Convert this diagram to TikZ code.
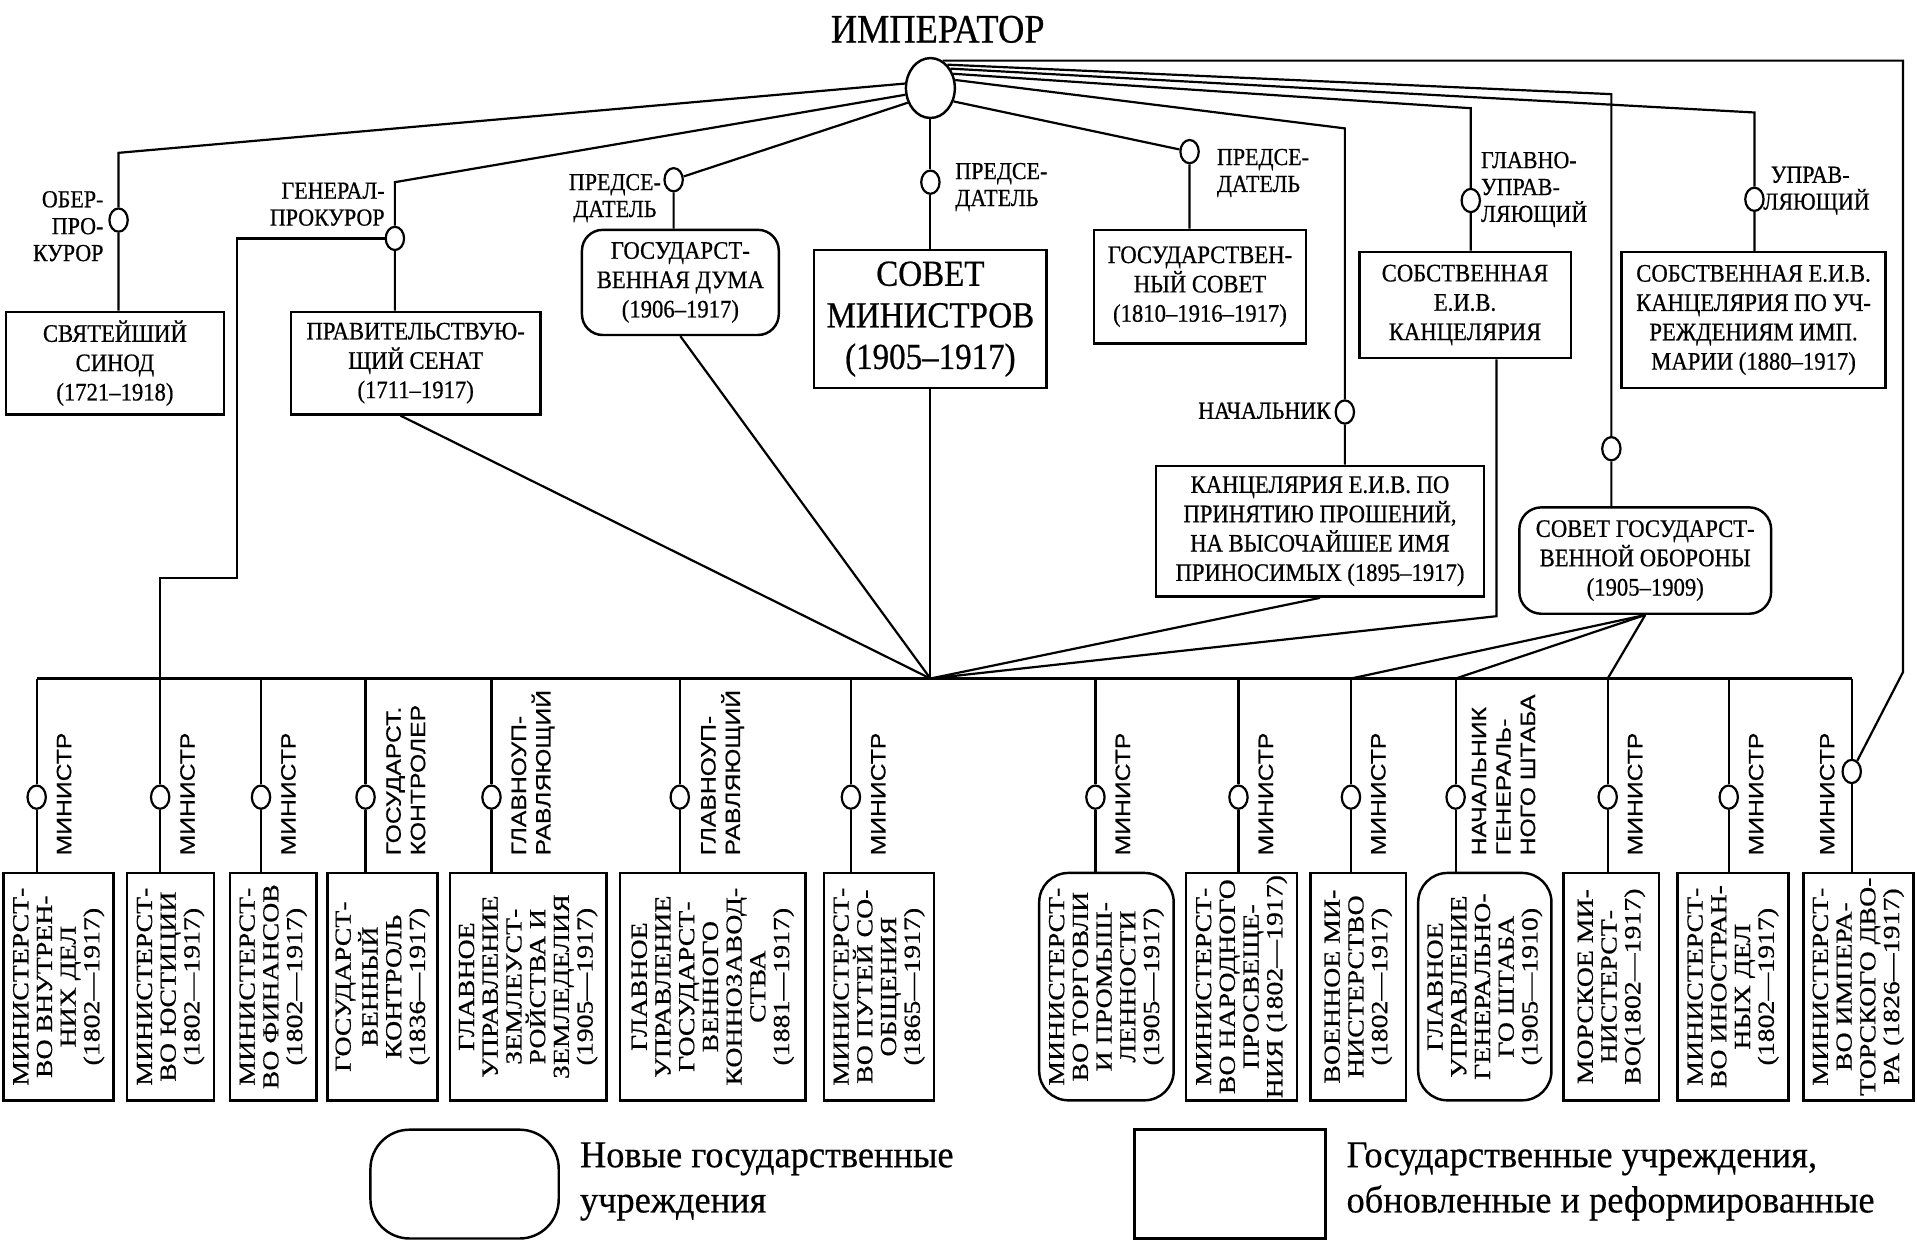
\documentclass[tikz,border=0pt]{standalone}
\usepackage{fontspec}
\setmainfont{Liberation Serif}
\newfontfamily\condfont[FakeStretch=0.9,FakeBold=0.6]{Liberation Serif}
\newfontfamily\widefont[FakeStretch=1.21,FakeBold=0.6]{Liberation Serif}
\newfontfamily\labfont[FakeStretch=1.19,FakeBold=0.5]{Liberation Sans}
\newfontfamily\legfont[FakeStretch=0.96,FakeBold=0.4]{Liberation Serif}
\usetikzlibrary{shapes.geometric,calc}
\tikzset{
  wh/.style 2 args={minimum width=#1*0.5pt, minimum height=#2*0.5pt},
  conn/.style={line width=0.9pt},
  barline/.style={line width=1.5pt},
  tbox/.style={draw, line width=1pt, fill=white, inner sep=0, align=center,
    font=\condfont\fontsize{10.3}{12}\selectfont},
  tlab/.style={inner sep=0, font=\condfont\fontsize{10}{11}\selectfont},
  cir/.style={ellipse, draw, line width=0.9pt, fill=white, inner sep=0,
    minimum width=7.5pt, minimum height=9.5pt},
  bbox/.style={draw, line width=1pt, fill=white, inner sep=0},
  btext/.style={rotate=90, align=center, inner sep=0,
    font=\widefont\fontsize{9.4}{9.7}\selectfont},
  blab/.style={rotate=90, align=left, inner sep=0,
    font=\labfont\fontsize{8.5}{10}\selectfont},
  legtext/.style={align=left, inner sep=0, font=\legfont\fontsize{15.5}{18.5}\selectfont}
}
\begin{document}
\begin{tikzpicture}[x=0.5pt,y=-0.5pt]
\useasboundingbox (0,0) rectangle (1568,1014);

% ---------- Emperor ----------
\node[inner sep=0, font=\condfont\fontsize{16.5}{18}\selectfont] (title) at (767,24) {ИМПЕРАТОР};
\node[ellipse, draw, line width=1pt, fill=white, inner sep=0, minimum width=20pt, minimum height=24.5pt] (emp) at (761,72) {};

% ---------- Top boxes ----------
\node[tbox, wh={178}{84}] (sinod) at (94,297) {СВЯТЕЙШИЙ\\СИНОД\\(1721–1918)};
\node[tbox, wh={204}{84}] (senat) at (340,297) {ПРАВИТЕЛЬСТВУЮ-\\ЩИЙ СЕНАТ\\(1711–1917)};
\node[tbox, wh={161}{86}, rounded corners=8.5pt] (duma) at (556.5,231) {ГОСУДАРСТ-\\ВЕННАЯ ДУМА\\(1906–1917)};
\node[tbox, wh={190}{113}, font=\condfont\fontsize{15}{17}\selectfont] (sovmin) at (761,261) {СОВЕТ\\МИНИСТРОВ\\(1905–1917)};
\node[tbox, wh={173}{93}] (gossov) at (981.5,234.5) {ГОСУДАРСТВЕН-\\НЫЙ СОВЕТ\\(1810–1916–1917)};
\node[tbox, wh={173}{87}] (sobst) at (1198.3,249.5) {СОБСТВЕННАЯ\\Е.И.В.\\КАНЦЕЛЯРИЯ};
\node[tbox, wh={216}{111}] (marii) at (1434.3,261.7) {СОБСТВЕННАЯ Е.И.В.\\КАНЦЕЛЯРИЯ ПО УЧ-\\РЕЖДЕНИЯМ ИМП.\\МАРИИ (1880–1917)};
\node[tbox, wh={268}{107}] (prosh) at (1079.7,434.5) {КАНЦЕЛЯРИЯ Е.И.В. ПО\\ПРИНЯТИЮ ПРОШЕНИЙ,\\НА ВЫСОЧАЙШЕЕ ИМЯ\\ПРИНОСИМЫХ (1895–1917)};
\node[tbox, wh={206}{87}, rounded corners=9pt] (sgo) at (1345.7,458.5) {СОВЕТ ГОСУДАРСТ-\\ВЕННОЙ ОБОРОНЫ\\(1905–1909)};

% ---------- Top circles ----------
\node[cir] (c_ob) at (97,180) {};
\node[cir] (c_gp) at (323,195) {};
\node[cir] (c_du) at (551,147) {};
\node[cir] (c_sm) at (761,149) {};
\node[cir] (c_gs) at (973,124) {};
\node[cir] (c_na) at (1100,337) {};
\node[cir] (c_gl) at (1203,164) {};
\node[cir] (c_up) at (1435,163) {};
\node[cir] (c_sg) at (1318,367) {};

% ---------- Top labels ----------
\node[tlab, align=right, anchor=east] (l_ob) at (85,185) {ОБЕР-\\ПРО-\\КУРОР};
\node[tlab, align=right, anchor=east] (l_gp) at (315,167) {ГЕНЕРАЛ-\\ПРОКУРОР};
\node[tlab, align=center, anchor=east] (l_du) at (541,162) {ПРЕДСЕ-\\ДАТЕЛЬ};
\node[tlab, align=left, anchor=west] (l_sm) at (781,153) {ПРЕДСЕ-\\ДАТЕЛЬ};
\node[tlab, align=left, anchor=west] (l_gs) at (995,141.5) {ПРЕДСЕ-\\ДАТЕЛЬ};
\node[tlab, align=left, anchor=west] (l_gl) at (1211,155) {ГЛАВНО-\\УПРАВ-\\ЛЯЮЩИЙ};
\node[tlab, align=left, anchor=west] (l_up) at (1442,156) {\hspace*{3pt}УПРАВ-\\ЛЯЮЩИЙ};
\node[tlab, anchor=east] (l_na) at (1089,336) {НАЧАЛЬНИК};

% ---------- corner coordinates ----------
\coordinate (k1) at (97,125);
\coordinate (k2) at (323,149);
\coordinate (k3) at (194,195);
\coordinate (k4) at (194,473);
\coordinate (k5) at (131,473);
\coordinate (k6) at (1100,105);
\coordinate (k7) at (1203,88.5);
\coordinate (k8) at (1435,92);
\coordinate (k9) at (1318,77);
\coordinate (k11) at (1556.6,549.6);
\coordinate (k12) at (1224,504);
\coordinate (hub) at (761,555);

% ---------- bar junctions ----------
\coordinate (j1) at (30,555);
\coordinate (j3) at (213.5,555);
\coordinate (j4) at (299,555);
\coordinate (j5) at (402,555);
\coordinate (j6) at (556,555);
\coordinate (j7) at (696,555);
\coordinate (j8) at (896,555);
\coordinate (j9) at (1013,555);
\coordinate (j10) at (1105,555);
\coordinate (j11) at (1190.6,555);
\coordinate (j12) at (1315,555);
\coordinate (j13) at (1414,555);
\coordinate (j14) at (1514.6,555);

% ---------- bottom circles ----------
\node[cir] (c1) at (30,652) {};
\node[cir] (c2) at (131,652) {};
\node[cir] (c3) at (213.5,652) {};
\node[cir] (c4) at (299,652) {};
\node[cir] (c5) at (402,652) {};
\node[cir] (c6) at (556,652) {};
\node[cir] (c7) at (696,652) {};
\node[cir] (c8) at (896,652) {};
\node[cir] (c9) at (1013,652) {};
\node[cir] (c10) at (1105,652) {};
\node[cir] (c11) at (1190.6,652) {};
\node[cir] (c12) at (1315,652) {};
\node[cir] (c13) at (1414,652) {};
\node[cir] (c14) at (1514.6,631) {};

% ---------- bottom boxes ----------
\node[bbox, wh={90}{186}] (b1) at (48,807) {};
\node[bbox, wh={71}{186}] (b2) at (139.5,807) {};
\node[bbox, wh={71}{186}] (b3) at (223.5,807) {};
\node[bbox, wh={90}{186}] (b4) at (313,807) {};
\node[bbox, wh={128}{186}] (b5) at (432,807) {};
\node[bbox, wh={152}{186}] (b6) at (583,807) {};
\node[bbox, wh={90}{186}] (b7) at (719,807) {};
\node[bbox, wh={110}{186}, rounded corners=12pt] (b8) at (905,807) {};
\node[bbox, wh={91}{186}] (b9) at (1015.5,807) {};
\node[bbox, wh={78}{186}] (b10) at (1111,807) {};
\node[bbox, wh={109}{186}, rounded corners=12pt] (b11) at (1214.5,807) {};
\node[bbox, wh={78}{186}] (b12) at (1318,807) {};
\node[bbox, wh={91}{186}] (b13) at (1417.5,807) {};
\node[bbox, wh={90}{186}] (b14) at (1520,807) {};

\node[btext] (t1) at (b1) {МИНИСТЕРСТ-\\ВО ВНУТРЕН-\\НИХ ДЕЛ\\(1802—1917)};
\node[btext] (t2) at (b2) {МИНИСТЕРСТ-\\ВО ЮСТИЦИИ\\(1802—1917)};
\node[btext] (t3) at (b3) {МИНИСТЕРСТ-\\ВО ФИНАНСОВ\\(1802—1917)};
\node[btext] (t4) at (b4) {ГОСУДАРСТ-\\ВЕННЫЙ\\КОНТРОЛЬ\\(1836—1917)};
\node[btext] (t5) at (b5) {ГЛАВНОЕ\\УПРАВЛЕНИЕ\\ЗЕМЛЕУСТ-\\РОЙСТВА И\\ЗЕМЛЕДЕЛИЯ\\(1905—1917)};
\node[btext] (t6) at (b6) {ГЛАВНОЕ\\УПРАВЛЕНИЕ\\ГОСУДАРСТ-\\ВЕННОГО\\КОННОЗАВОД-\\СТВА\\(1881—1917)};
\node[btext] (t7) at (b7) {МИНИСТЕРСТ-\\ВО ПУТЕЙ СО-\\ОБЩЕНИЯ\\(1865—1917)};
\node[btext] (t8) at (b8) {МИНИСТЕРСТ-\\ВО ТОРГОВЛИ\\И ПРОМЫШ-\\ЛЕННОСТИ\\(1905—1917)};
\node[btext] (t9) at (b9) {МИНИСТЕРСТ-\\ВО НАРОДНОГО\\ПРОСВЕЩЕ-\\НИЯ (1802—1917)};
\node[btext] (t10) at (b10) {ВОЕННОЕ МИ-\\НИСТЕРСТВО\\(1802—1917)};
\node[btext] (t11) at (b11) {ГЛАВНОЕ\\УПРАВЛЕНИЕ\\ГЕНЕРАЛЬНО-\\ГО ШТАБА\\(1905—1910)};
\node[btext] (t12) at (b12) {МОРСКОЕ МИ-\\НИСТЕРСТ-\\ВО(1802—1917)};
\node[btext] (t13) at (b13) {МИНИСТЕРСТ-\\ВО ИНОСТРАН-\\НЫХ ДЕЛ\\(1802—1917)};
\node[btext] (t14) at (b14) {МИНИСТЕРСТ-\\ВО ИМПЕРА-\\ТОРСКОГО ДВО-\\РА (1826—1917)};

% ---------- bottom labels ----------
\node[blab, anchor=north west] (m1) at (46,700) {МИНИСТР};
\node[blab, anchor=north west] (m2) at (147,700) {МИНИСТР};
\node[blab, anchor=north west] (m3) at (229.5,700) {МИНИСТР};
\node[blab, anchor=north west] (m4) at (315.5,700) {ГОСУДАРСТ.\\КОНТРОЛЕР};
\node[blab, anchor=north west] (m5) at (418,700) {ГЛАВНОУП-\\РАВЛЯЮЩИЙ};
\node[blab, anchor=north west] (m6) at (573,700) {ГЛАВНОУП-\\РАВЛЯЮЩИЙ};
\node[blab, anchor=north west] (m7) at (712,700) {МИНИСТР};
\node[blab, anchor=north west] (m8) at (912,700) {МИНИСТР};
\node[blab, anchor=north west] (m9) at (1029,700) {МИНИСТР};
\node[blab, anchor=north west] (m10) at (1121,700) {МИНИСТР};
\node[blab, anchor=north west] (m11) at (1203.5,700) {НАЧАЛЬНИК\\ГЕНЕРАЛЬ-\\НОГО ШТАБА};
\node[blab, anchor=north west] (m12) at (1331,700) {МИНИСТР};
\node[blab, anchor=north west] (m13) at (1430,700) {МИНИСТР};
\node[blab, anchor=south west] (m14) at (1501,700) {МИНИСТР};

% ---------- connectors from the Emperor ----------
\draw[conn] (emp.170) -- (k1) -- (c_ob) -- (c_ob |- sinod.north);
\draw[conn] (emp.195) -- (k2) -- (c_gp) -- (c_gp |- senat.north);
\draw[conn] (c_gp) -- (k3) -- (k4) -- (k5) -- (c2) -- (c2 |- b2.north);
\draw[conn] (emp.213) -- (c_du) -- (c_du |- duma.north);
\draw[conn] (emp.south) -- (c_sm) -- (sovmin.north);
\draw[conn] (emp.-30) -- (c_gs) -- (c_gs |- gossov.north);
\draw[conn] (emp.18) -- (k6) -- (c_na) -- (c_na |- prosh.north);
\draw[conn] (emp.32) -- (k7) -- (c_gl) -- (c_gl |- sobst.north);
\draw[conn] (emp.44) -- (k8) -- (c_up) -- (c_up |- marii.north);
\draw[conn] (emp.54) -- (k9) -- (c_sg) -- (c_sg |- sgo.north);
\draw[conn] (emp.66) -- (emp.66 -| k11) -- (k11) -- (c14);

% ---------- connectors to the hub ----------
\draw[conn] ($(senat.south west)!0.44!(senat.south east)$) -- (hub);
\draw[conn] (duma.south) -- (hub);
\draw[conn] (sovmin.south) -- (hub);
\draw[conn] (prosh.south) -- (hub);
\draw[conn] (k12 |- sobst.south) -- (k12) -- (hub);

% ---------- SGO links ----------
\draw[conn] (sgo.south) -- (j10);
\draw[conn] (sgo.south) -- (j11);
\draw[conn] (sgo.south) -- (j12);

% ---------- bar and ministries ----------
\draw[barline] (j1) -- (j14);
\foreach \i in {1,3,4,5,6,7,8,9,10,11,12,13,14}
  \draw[conn] (j\i) -- (c\i) -- (c\i |- b\i.north);

% ---------- legend ----------
\node[draw, line width=1pt, rounded corners=16pt, wh={154}{89}] (lg1) at (380,968.5) {};
\node[legtext, anchor=north west] (lt1) at (474,934) {Новые государственные\\учреждения};
\node[draw, line width=1pt, wh={156}{89}] (lg2) at (1006,968.5) {};
\node[legtext, anchor=north west] (lt2) at (1101,934) {Государственные учреждения,\\обновленные и реформированные};
\end{tikzpicture}
\end{document}
